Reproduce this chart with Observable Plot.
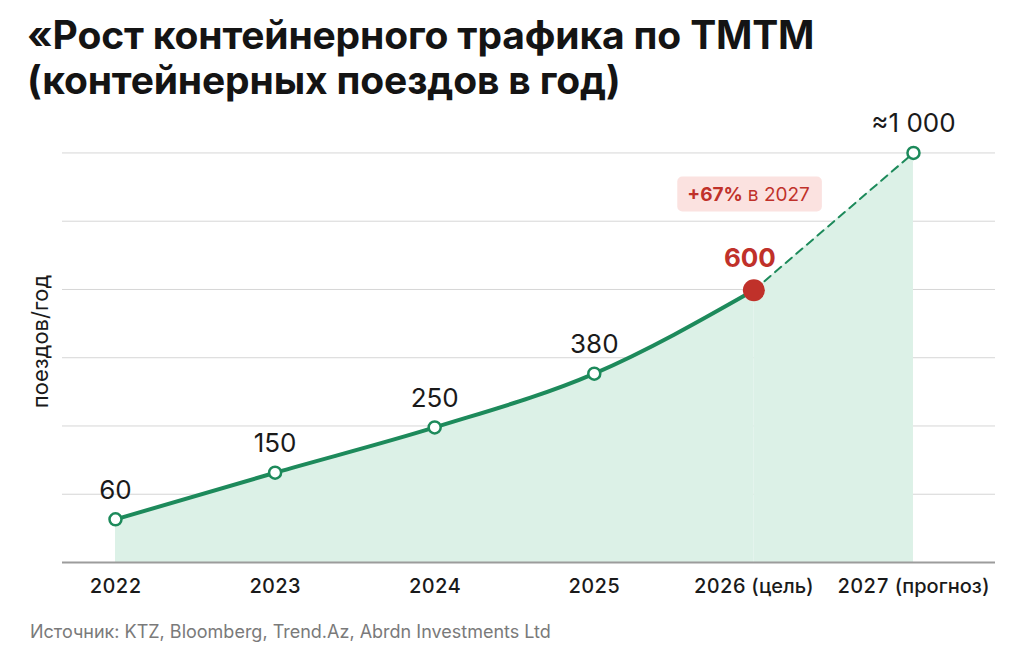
<!DOCTYPE html>
<html>
<head>
<meta charset="utf-8">
<script src="https://cdn.jsdelivr.net/npm/d3@7"></script>
<script src="https://cdn.jsdelivr.net/npm/@observablehq/plot@0.6"></script>
<style>
  html, body { margin: 0; padding: 0; background: #ffffff; }
  body { width: 1024px; height: 657px; overflow: hidden; font-family: Inter, "Open Sans", sans-serif; }
  #title { box-sizing: border-box; height: 108px; padding: 12px 0 0 27px; font-size: 39px; font-weight: 700; line-height: 45px; color: #141414; letter-spacing: -0.15px; }
  #chart { height: 500px; }
  #caption { padding: 13px 0 0 30px; font-size: 18px; line-height: 22px; color: #7a7a7a; }
</style>
</head>
<body>
<div id="title">«Рост контейнерного трафика по ТМТМ<br>(контейнерных поездов в год)</div>
<div id="chart"></div>
<div id="caption">Источник: KTZ, Bloomberg, Trend.Az, Abrdn Investments Ltd</div>
<script>
// ---- data ----
const years = [2022, 2023, 2024, 2025, 2026, 2027];
const yearLabels = ["2022", "2023", "2024", "2025", "2026 (цель)", "2027 (прогноз)"];
const trains = [60, 150, 250, 380, 600, 1000];
const valueLabels = ["60", "150", "250", "380", "600", "≈1 000"];
const kinds = ["fact", "fact", "fact", "fact", "target", "forecast"];
const annotationParts = ["+67%", "в 2027"];
const yLabel = "поездов/год";

// ---- table built from the arrays ----
const rows = years.map((year, i) => ({ year, value: trains[i], label: valueLabels[i], kind: kinds[i] }));
const solid = rows.filter(d => d.kind !== "forecast");
const dashed = rows.filter(d => d.kind !== "fact");
const openPts = rows.filter(d => d.kind !== "target");
const target = rows.filter(d => d.kind === "target");
const tickLabel = d => yearLabels[years.indexOf(d)];

const green = "#1d8a5b";
const mint = "#dcf1e7";
const red = "#c0312a";
const ink = "#1a1a1a";

// horizontal guide lines evenly spaced between the baseline and the top value
const yMaxVal = d3.max(trains);
const exponent = 0.8;
const gridTicks = d3.range(0, 7).map(k => yMaxVal * Math.pow(k / 6, 1 / exponent));

const annotAnchor = [{ year: years[4], value: 875 }];

const chart = Plot.plot({
  width: 1024,
  height: 500,
  marginLeft: 62,
  marginRight: 29,
  marginTop: 12,
  marginBottom: 46,
  style: { fontFamily: "Inter, 'Open Sans', sans-serif", background: "transparent", overflow: "visible", color: ink },
  x: { type: "linear", domain: [2021.668, 2027.514], axis: null },
  y: { type: "pow", exponent, domain: [0, 1100], axis: null },
  marks: [
    Plot.gridY(gridTicks.slice(1), { stroke: "#d6d6d6", strokeOpacity: 1, strokeWidth: 1 }),
    Plot.areaY(solid, { x: "year", y: "value", curve: "monotone-x", fill: mint }),
    Plot.areaY(dashed, { x: "year", y: "value", fill: mint }),
    Plot.ruleY([0], { stroke: "#9c9c9c", strokeWidth: 2 }),
    Plot.lineY(solid, { x: "year", y: "value", curve: "monotone-x", stroke: green, strokeWidth: 4, strokeLinecap: "round" }),
    Plot.lineY(dashed, { x: "year", y: "value", stroke: green, strokeWidth: 2, strokeDasharray: "8,6" }),
    Plot.dot(openPts, { x: "year", y: "value", r: 6, fill: "white", stroke: green, strokeWidth: 2.5 }),
    Plot.dot(target, { x: "year", y: "value", r: 11, fill: red }),
    Plot.text(openPts, { x: "year", y: "value", text: "label", dy: -29, fontSize: 26, fill: ink }),
    Plot.text(target, { x: "year", y: "value", text: "label", dy: -32, dx: -4, fontSize: 26, fontWeight: 700, fill: red }),
    Plot.axisX({ ticks: years, tickFormat: tickLabel, tickSize: 0, tickPadding: 16, fontSize: 20, fontWeight: 500, label: null, color: ink }),
    Plot.text([yLabel], { frameAnchor: "left", textAnchor: "middle", rotate: -90, dx: -22, fontSize: 22, fill: ink }),
    Plot.text(annotAnchor, { x: "year", y: "value", text: () => annotationParts[0], textAnchor: "end", dx: -11, fontSize: 19, fontWeight: 700, fill: red }),
    Plot.text(annotAnchor, { x: "year", y: "value", text: () => annotationParts[1], textAnchor: "start", dx: -6, fontSize: 19, fill: red })
  ]
});

document.getElementById("chart").appendChild(chart);

// pink rounded box behind the annotation, sized from the rendered text
const annotTexts = Array.from(chart.querySelectorAll("text")).filter(t => annotationParts.includes(t.textContent));
if (annotTexts.length) {
  const s = chart.getBoundingClientRect();
  let x0 = Infinity, y0 = Infinity, x1 = -Infinity, y1 = -Infinity;
  annotTexts.forEach(t => {
    const r = t.getBoundingClientRect();
    x0 = Math.min(x0, r.left - s.left); x1 = Math.max(x1, r.right - s.left);
    y0 = Math.min(y0, r.top - s.top); y1 = Math.max(y1, r.bottom - s.top);
  });
  const rect = document.createElementNS("http://www.w3.org/2000/svg", "rect");
  rect.setAttribute("x", x0 - 10);
  rect.setAttribute("y", y0 - 6);
  rect.setAttribute("width", x1 - x0 + 22);
  rect.setAttribute("height", y1 - y0 + 12);
  rect.setAttribute("rx", 5);
  rect.setAttribute("fill", "#fbe2e0");
  let node = annotTexts[0];
  while (node.parentNode && node.parentNode !== chart) node = node.parentNode;
  chart.insertBefore(rect, node);
}
</script>
</body>
</html>
